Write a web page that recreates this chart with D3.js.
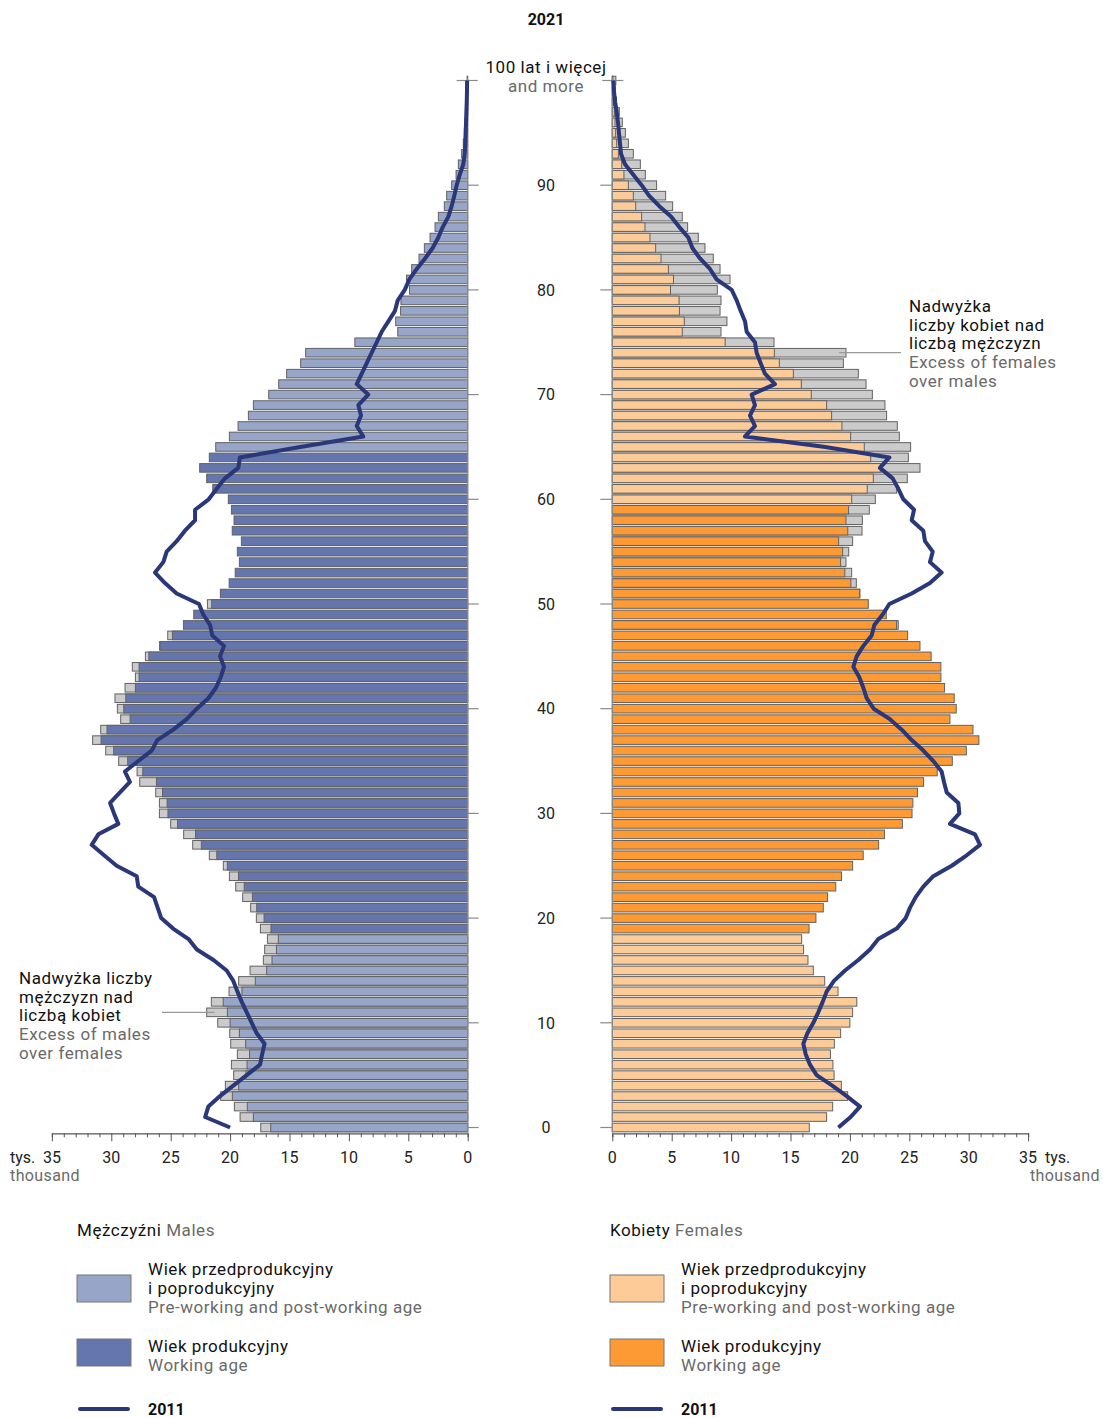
<!DOCTYPE html>
<html><head><meta charset="utf-8">
<script src="https://cdn.jsdelivr.net/npm/d3@7"></script>
<style>
body{margin:0;background:#fff;}
text{font-family:Roboto,"Open Sans",sans-serif;}
</style></head>
<body><svg id="c" width="1103" height="1418"></svg>
<script>
const ages = d3.range(0, 101);
const ageTickLabels = ["0","10","20","30","40","50","60","70","80","90"];
const xTickLabels = ["0","5","10","15","20","25","30","35"];
const maleWorkingAges = [19, 64];
const femaleWorkingAges = [19, 59];

const males2021 = [17.42,19.16,19.64,20.79,20.40,19.70,19.89,19.39,19.95,20.03,
21.04,21.97,21.58,20.09,19.28,18.32,17.20,17.09,16.86,17.45,
17.79,18.27,18.94,19.53,20.06,20.57,21.75,23.15,23.91,25.00,
25.95,25.95,26.26,27.61,27.83,29.38,30.47,31.57,30.89,29.21,
29.49,29.69,28.84,27.97,28.23,27.13,25.93,25.25,23.93,23.06,
21.91,20.82,20.08,19.57,19.22,19.39,19.05,19.82,19.67,19.89,
20.15,21.46,21.97,22.56,21.75,21.21,20.06,19.33,18.46,18.04,
16.75,15.91,15.24,14.06,13.64,9.50,5.89,6.06,5.65,5.62,
4.90,5.15,4.72,4.10,3.65,3.17,2.75,2.47,1.97,1.77,
1.35,0.98,0.79,0.51,0.37,0.28,0.23,0.17,0.10,0.07,0.05];

const females2021 = [16.58,18.04,18.55,19.81,19.28,18.67,18.57,18.36,18.69,19.22,
20.00,20.23,20.58,19.00,17.88,16.92,16.47,16.10,15.94,16.56,
17.14,17.76,18.12,18.81,19.29,20.23,21.12,22.42,22.91,24.42,
25.23,25.30,25.69,26.20,27.35,28.62,29.80,30.86,30.36,28.42,
28.95,28.78,27.97,27.66,27.66,26.84,25.90,24.86,24.07,23.06,
21.55,20.84,20.54,20.15,19.67,19.90,20.23,21.02,21.05,21.63,
22.14,23.94,24.83,25.90,24.92,25.11,24.16,23.99,23.09,22.95,
21.89,21.36,20.71,19.45,19.67,13.61,9.15,9.65,9.07,9.15,
8.84,9.91,9.07,8.50,7.80,7.24,6.34,5.89,5.08,4.49,
3.73,2.78,2.36,1.77,1.35,1.10,0.84,0.59,0.35,0.25,0.30];

const males2011 = [20.0,22.1,21.83,20.85,19.73,18.6,17.48,17.3,17.1,17.76,
18.18,18.6,19.02,19.39,19.73,20.29,21.4,22.8,23.5,24.8,
25.8,26.1,26.4,27.73,27.86,29.55,30.61,31.65,31.09,29.41,
29.77,30.1,29.27,28.43,28.85,27.73,26.6,26.13,24.78,23.65,
22.8,21.83,21.19,20.79,20.51,20.85,20.51,21.5,21.69,22.26,
22.62,24.5,25.48,26.32,25.62,25.34,24.5,23.8,22.95,22.95,
21.8,21.13,20.43,19.31,19.17,14.1,8.79,9.34,8.98,9.21,
8.37,9.34,8.92,8.5,8.08,7.66,7.24,6.68,6.12,5.89,
5.3,4.91,4.29,3.59,2.95,2.47,2.1,1.63,1.35,1.13,
0.93,0.67,0.37,0.25,0.2,0.17,0.14,0.11,0.08,0.06,0.05];

const females2011 = [19.03,20.06,20.85,19.73,18.52,17.2,16.64,16.28,16.08,16.42,
16.92,17.34,17.71,18.05,18.66,19.59,20.71,21.69,22.39,23.94,
24.7,25.06,25.54,26.18,27.02,28.57,29.83,30.95,30.53,28.42,
29.21,29.13,28.15,27.92,27.72,27.02,26.18,25.2,24.36,23.37,
22.0,21.41,21.13,20.79,20.29,20.57,21.13,21.83,22.06,22.76,
23.32,25.2,26.74,27.72,26.74,26.97,26.32,26.18,25.2,25.4,
24.5,24.08,23.6,22.53,23.32,17.93,11.17,12.01,11.59,12.01,
11.73,13.69,12.85,12.49,12.15,12.01,11.31,11.17,10.8,10.47,
10.05,8.78,8.22,7.38,6.74,6.4,5.64,4.94,3.96,3.09,
2.47,1.77,1.07,0.73,0.65,0.56,0.48,0.37,0.23,0.14,0.09];

const C = {
  maleLight: "#97a5c8", maleDark: "#6476ad",
  femLight: "#fdcb98", femDark: "#fe9a33",
  excess: "#cbcbcb", stroke: "#626262", line: "#2a3778",
  grey: "#6a6a6a", axis: "#8a8a8a"
};
const FS = 17, LS = "0.55px";

const svg = d3.select("#c");
const y = d3.scaleLinear().domain([0, 100]).range([1127.5, 80.5]);
const xM = d3.scaleLinear().domain([0, 35]).range([467.7, 51.9]);
const xF = d3.scaleLinear().domain([0, 35]).range([612.3, 1028.1]);
const barH = 8.6;

function side(own, other, x, light, dark, work, isMale) {
  const g = svg.append("g");
  const data = ages.map(a => ({a, v: own[a], o: other[a]}));
  g.selectAll("rect.ex").data(data.filter(d => d.v > d.o)).join("rect")
    .attr("class", "ex")
    .attr("x", d => Math.min(x(0), x(d.v)))
    .attr("width", d => Math.abs(x(d.v) - x(0)))
    .attr("y", d => y(d.a) - barH / 2).attr("height", barH)
    .attr("fill", C.excess).attr("stroke", C.stroke).attr("stroke-width", 1);
  g.selectAll("rect.main").data(data).join("rect")
    .attr("class", "main")
    .attr("x", d => Math.min(x(0), x(Math.min(d.v, d.o))))
    .attr("width", d => Math.abs(x(Math.min(d.v, d.o)) - x(0)))
    .attr("y", d => y(d.a) - barH / 2).attr("height", barH)
    .attr("fill", d => (d.a >= work[0] && d.a <= work[1]) ? dark : light)
    .attr("stroke", C.stroke).attr("stroke-width", 1);
  g.append("line").attr("x1", x(0)).attr("x2", x(0))
    .attr("y1", y(100) - 3).attr("y2", y(0) + 5)
    .attr("stroke", C.axis).attr("stroke-width", 1.2);
  const tickAges = d3.range(0, 101, 10);
  g.selectAll("line.at").data(tickAges).join("line")
    .attr("x1", d => d === 100 ? x(0) + (isMale ? 10 : -10) : x(0))
    .attr("x2", d => d === 100 ? x(0) + (isMale ? -11 : 11) : x(0) + (isMale ? 11 : -12))
    .attr("y1", d => y(d)).attr("y2", d => y(d))
    .attr("stroke", C.axis).attr("stroke-width", 1.2);
  const axis = d3.axisBottom(x).tickValues(d3.range(0, 36, 1))
    .tickSize(4).tickFormat("");
  const ax = svg.append("g").attr("transform", `translate(0,${y(0) + 5.8})`).call(axis);
  ax.select(".domain").attr("stroke", "#555").attr("stroke-width", 1.2);
  ax.selectAll(".tick line").attr("stroke", "#555")
    .attr("y2", d => d % 5 === 0 ? 8 : 4);
  svg.append("g").selectAll("text").data(xTickLabels).join("text")
    .attr("x", d => x(+d)).attr("y", 1163)
    .attr("text-anchor", "middle").attr("font-size", 16).attr("fill", "#222")
    .text(d => d);
  const line = d3.line().x(d => x(d.v)).y(d => y(d.a));
  svg.append("path").datum(ages.map(a => ({a, v: (isMale ? males2011 : females2011)[a]})))
    .attr("d", line).attr("fill", "none").attr("stroke", C.line)
    .attr("stroke-width", 4).attr("stroke-linejoin", "round");
}

side(males2021, females2021, xM, C.maleLight, C.maleDark, maleWorkingAges, true);
side(females2021, males2021, xF, C.femLight, C.femDark, femaleWorkingAges, false);

svg.append("text").attr("x", 546).attr("y", 25).attr("text-anchor", "middle")
  .attr("font-size", 16).attr("font-weight", "bold").attr("fill", "#111").text("2021");
svg.append("g").selectAll("text").data(ageTickLabels).join("text")
  .attr("x", 546).attr("y", d => y(+d)).attr("dy", "0.36em")
  .attr("text-anchor", "middle").attr("font-size", 16).attr("fill", "#222").text(d => d);
svg.append("text").attr("x", 546).attr("y", 73).attr("text-anchor", "middle")
  .attr("font-size", FS).attr("letter-spacing", LS).attr("fill", "#111").text("100 lat i więcej");
svg.append("text").attr("x", 546).attr("y", 92).attr("text-anchor", "middle")
  .attr("font-size", FS).attr("letter-spacing", LS).attr("fill", C.grey).text("and more");

svg.append("text").attr("x", 10).attr("y", 1163).attr("font-size", 16).attr("fill", "#222").text("tys.");
svg.append("text").attr("x", 10).attr("y", 1181).attr("font-size", 16).attr("letter-spacing", "0.4px").attr("fill", C.grey).text("thousand");
svg.append("text").attr("x", 1045).attr("y", 1163).attr("font-size", 16).attr("fill", "#222").text("tys.");
svg.append("text").attr("x", 1100).attr("y", 1181).attr("text-anchor", "end").attr("font-size", 16).attr("letter-spacing", "0.4px").attr("fill", C.grey).text("thousand");

function multi(x0, yCenters, lines, colors) {
  svg.append("g").selectAll("text").data(lines).join("text")
    .attr("x", x0).attr("y", (d, i) => yCenters[i] + 6)
    .attr("font-size", FS).attr("letter-spacing", LS)
    .attr("fill", (d, i) => colors[i]).text(d => d);
}
multi(19, [978, 997, 1015, 1034, 1053],
  ["Nadwyżka liczby", "mężczyzn nad", "liczbą kobiet", "Excess of males", "over females"],
  ["#111", "#111", "#111", C.grey, C.grey]);
svg.append("line").attr("x1", 162).attr("x2", xM(21.3)).attr("y1", y(11)).attr("y2", y(11))
  .attr("stroke", "#999").attr("stroke-width", 1.2);
multi(909, [306, 325, 343, 362, 381],
  ["Nadwyżka", "liczby kobiet nad", "liczbą mężczyzn", "Excess of females", "over males"],
  ["#111", "#111", "#111", C.grey, C.grey]);
svg.append("line").attr("x1", xF(19.1)).attr("x2", 901).attr("y1", y(74)).attr("y2", y(74))
  .attr("stroke", "#999").attr("stroke-width", 1.2);

function legend(x0, head1, head2, light, dark) {
  const g = svg.append("g");
  g.append("text").attr("x", x0).attr("y", 1236).attr("font-size", FS).attr("letter-spacing", LS)
    .call(t => { t.append("tspan").attr("fill", "#111").text(head1);
                 t.append("tspan").attr("fill", C.grey).text(head2); });
  g.append("rect").attr("x", x0).attr("y", 1275).attr("width", 54).attr("height", 27)
    .attr("fill", light).attr("stroke", "#777").attr("stroke-width", 1);
  g.append("rect").attr("x", x0).attr("y", 1339).attr("width", 54).attr("height", 27)
    .attr("fill", dark).attr("stroke", "#777").attr("stroke-width", 1);
  const tx = x0 + 71;
  [["Wiek przedprodukcyjny", 1269, "#111"], ["i poprodukcyjny", 1288, "#111"],
   ["Pre-working and post-working age", 1307, C.grey],
   ["Wiek produkcyjny", 1346, "#111"], ["Working age", 1365, C.grey]].forEach(([t, yy, c]) =>
    g.append("text").attr("x", tx).attr("y", yy + 6).attr("font-size", FS)
      .attr("letter-spacing", LS).attr("fill", c).text(t));
  g.append("line").attr("x1", x0 + 3).attr("x2", x0 + 51).attr("y1", 1409).attr("y2", 1409)
    .attr("stroke", C.line).attr("stroke-width", 4).attr("stroke-linecap", "round");
  g.append("text").attr("x", tx).attr("y", 1414.5).attr("font-size", 16).attr("font-weight", "bold")
    .attr("fill", "#111").text("2011");
}
legend(77, "Mężczyźni", " Males", C.maleLight, C.maleDark);
legend(610, "Kobiety", "  Females", C.femLight, C.femDark);
</script></body></html>
